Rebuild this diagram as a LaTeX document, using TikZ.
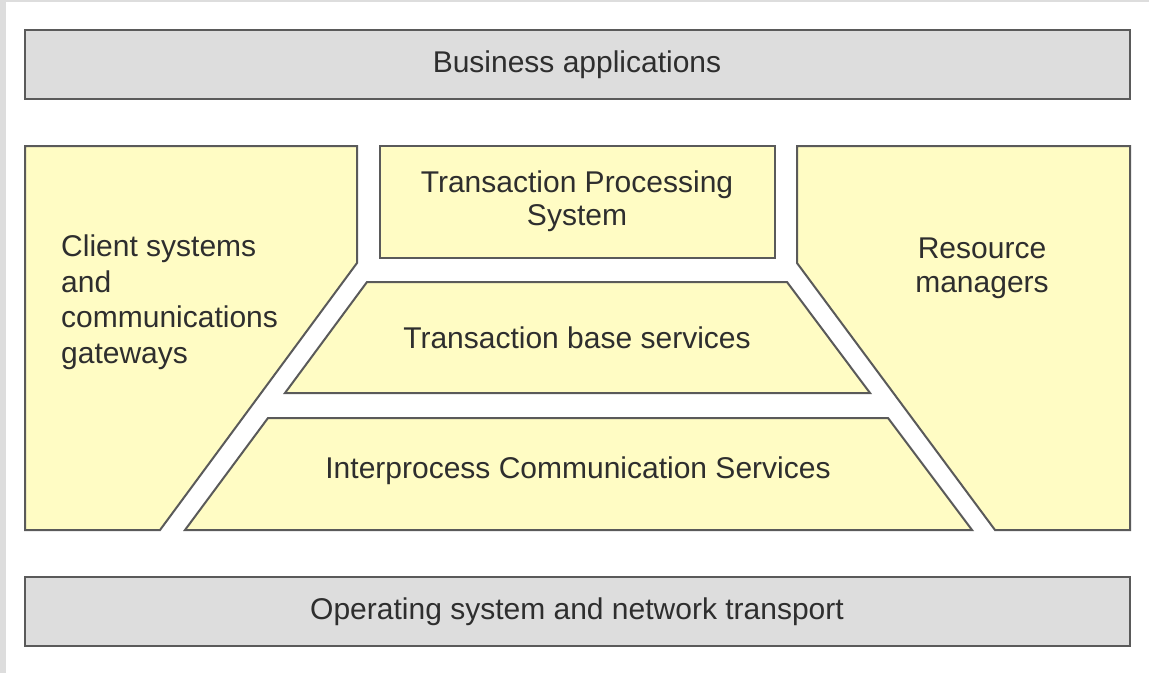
\documentclass[tikz,border=0pt]{standalone}
\usepackage{fontspec}
\setmainfont{Liberation Sans}
\definecolor{bargray}{HTML}{DDDDDD}
\definecolor{boxyellow}{HTML}{FFFCC4}
\definecolor{edge}{HTML}{5A5A5A}
\definecolor{txt}{HTML}{2E2E2E}
\begin{document}
\begin{tikzpicture}[x=1pt,y=-1pt,
  outl/.style={draw=edge,line width=2pt,line join=miter},
  bar/.style={outl,fill=bargray},
  yel/.style={outl,fill=boxyellow},
  lbl/.style={text=txt,font=\fontsize{30}{33}\selectfont,inner sep=0pt,align=center},
  lbll/.style={lbl,align=left}]
\useasboundingbox (0,0) rectangle (1149,673);
\fill[white] (0,0) rectangle (1149,673);
\fill[bargray] (0,0) rectangle (1149,2);
\fill[bargray] (0,0) rectangle (6,673);
% bars
\draw[bar] (25,30) rectangle (1130,99);
\draw[bar] (25,577) rectangle (1130,646);
% client systems
\draw[yel] (25,146) -- (357,146) -- (357,263) -- (160,530) -- (25,530) -- cycle;
% TPS
\draw[yel] (380,146) rectangle (775,258);
% resource managers
\draw[yel] (797,146) -- (1130,146) -- (1130,530) -- (995,530) -- (797,263) -- cycle;
% transaction base services
\draw[yel] (367,282) -- (787,282) -- (870,393) -- (285,393) -- cycle;
% interprocess
\draw[yel] (268,418) -- (888,418) -- (972,530) -- (185,530) -- cycle;
% labels
\node[lbl] (ba) at (577,65) {Business applications};
\node[lbl] (os) at (577,612) {Operating system and network transport};
\node[lbl] (tps) at (577,201) {Transaction Processing\\System};
\node[lbl] (tbs) at (577,338) {Transaction base services};
\node[lbl] (ipc) at (578,471) {Interprocess Communication Services};
\node[lbl,font=\fontsize{30}{34}\selectfont] (rm) at (982,268) {Resource\\managers};
\node[lbll,anchor=west,font=\fontsize{30}{35.5}\selectfont] (cs) at (61,302) {Client systems\\and\\communications\\gateways};
\end{tikzpicture}
\end{document}
